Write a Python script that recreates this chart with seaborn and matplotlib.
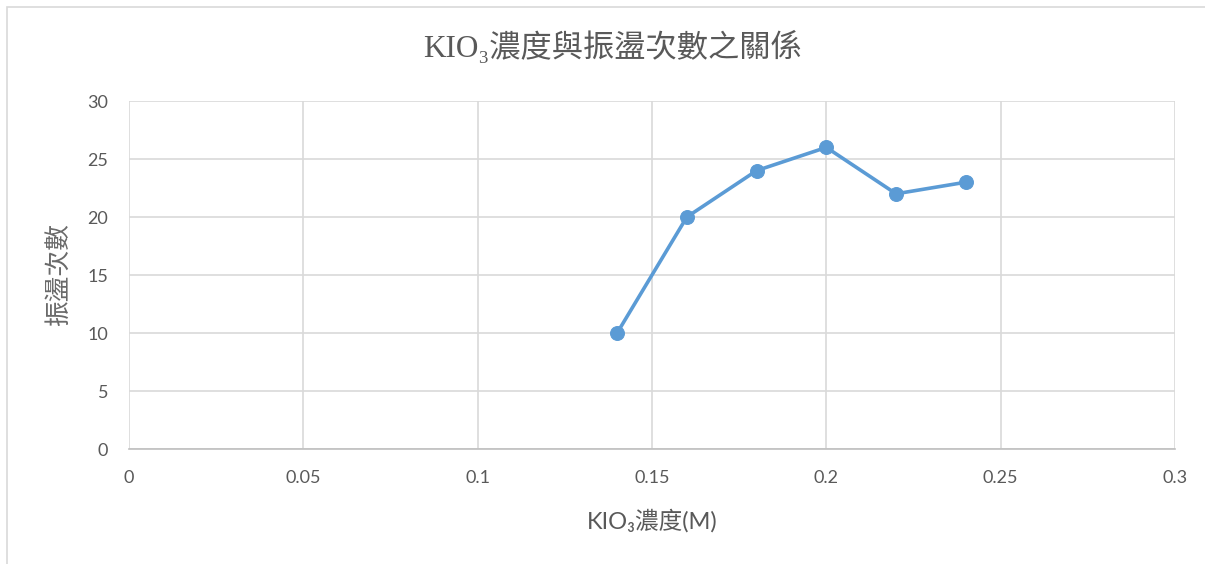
import matplotlib
matplotlib.use("Agg")
import matplotlib.pyplot as plt
from matplotlib.patches import Rectangle
import seaborn as sns
import pandas as pd

# Oscillation counts measured at each KIO3 concentration
concentration = [0.14, 0.16, 0.18, 0.20, 0.22, 0.24]
oscillations = [10, 20, 24, 26, 22, 23]
x_ticks = [0, 0.05, 0.1, 0.15, 0.2, 0.25, 0.3]
x_tick_labels = ["0", "0.05", "0.1", "0.15", "0.2", "0.25", "0.3"]
y_ticks = [0, 5, 10, 15, 20, 25, 30]

title_text = "KIO₃濃度與振盪次數之關係"
x_label = "KIO₃濃度(M)"
y_label = "振盪次數"

sns.set_theme(style="white")
plt.rcParams["font.family"] = ["Lato", "Noto Sans CJK TC", "DejaVu Sans"]

W, H = 1205, 564
fig = plt.figure(figsize=(W / 100, H / 100), dpi=100)
fig.patch.set_facecolor("white")

# outer chart frame
fig.patches.append(Rectangle((7 / W, -0.05), 1.1, 1 - 7 / H + 0.05,
                             transform=fig.transFigure, fill=False,
                             edgecolor="#D9D9D9", linewidth=1.2))

ax = fig.add_axes([129 / W, 1 - 449 / H, (1175 - 129) / W, (449 - 101) / H])

df = pd.DataFrame({"conc": concentration, "count": oscillations})
sns.lineplot(data=df, x="conc", y="count", ax=ax, color="#5B9BD5",
             linewidth=2.6, marker="o", markersize=10,
             markeredgecolor="#5B9BD5", markerfacecolor="#5B9BD5", zorder=3)

ax.set_xlim(0, 0.3)
ax.set_ylim(0, 30)
ax.set_xticks(x_ticks)
ax.set_xticklabels(x_tick_labels)
ax.set_yticks(y_ticks)
ax.grid(True, color="#D9D9D9", linewidth=1.2)
for s in ["top", "right", "left"]:
    ax.spines[s].set_visible(False)
ax.spines["bottom"].set_color("#BFBFBF")
ax.spines["bottom"].set_linewidth(1.2)
ax.tick_params(axis="both", length=0, labelsize=13, colors="#595959")
ax.tick_params(axis="y", pad=15)
ax.tick_params(axis="x", pad=15)
ax.set_xlabel("")
ax.set_ylabel("")

fig.text(652 / W, 1 - 521 / H, x_label, ha="center", va="center",
         fontsize=17, color="#595959")
fig.text(59 / W, 1 - 275 / H, y_label, ha="center", va="center",
         rotation=90, fontsize=18.5, color="#6A6A6A", fontweight="light")
fig.text(613 / W, 1 - 47 / H, title_text, ha="center", va="center",
         fontsize=22.5, color="#595959",
         family=["Liberation Serif", "Noto Sans CJK TC", "DejaVu Serif"])

fig.savefig("out.png", dpi=100, facecolor="white")
